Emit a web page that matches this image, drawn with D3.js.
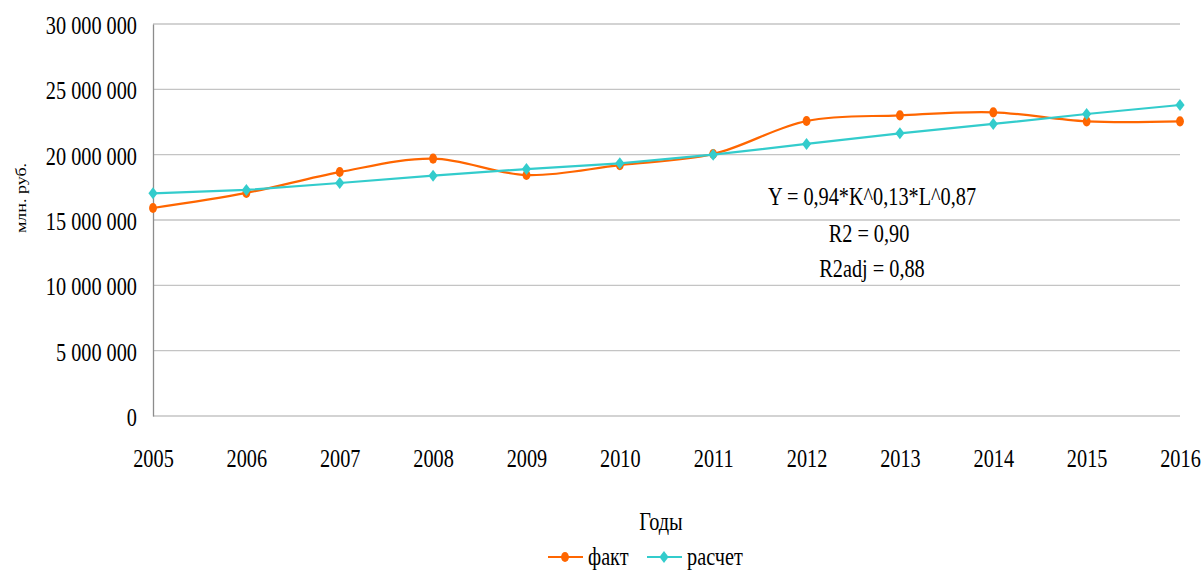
<!DOCTYPE html>
<html>
<head>
<meta charset="utf-8">
<script src="https://cdn.jsdelivr.net/npm/d3@7"></script>
<style>
  body { margin: 0; background: #fff; }
  svg text { font-family: "Liberation Serif", "Times New Roman", serif; fill: #000; }
</style>
</head>
<body>
<svg id="chart" width="1203" height="572"></svg>
<script>
// data
const years = [2005, 2006, 2007, 2008, 2009, 2010, 2011, 2012, 2013, 2014, 2015, 2016]
const fact = [15920000, 17070000, 18670000, 19700000, 18440000, 19200000, 20050000, 22580000, 23010000, 23240000, 22550000, 22550000]
const calc = [17040000, 17300000, 17830000, 18390000, 18900000, 19340000, 20000000, 20820000, 21630000, 22350000, 23110000, 23800000]
const yTicks = [0, 5000000, 10000000, 15000000, 20000000, 25000000, 30000000]
const notes = ['Y = 0,94*K^0,13*L^0,87', 'R2 = 0,90', 'R2adj = 0,88']
const series = [
    {name: 'факт', values: fact, color: '#FF6600', marker: 'circle', smooth: true},
    {name: 'расчет', values: calc, color: '#33CCCC', marker: 'diamond', smooth: false}
]

// the whole picture is squeezed horizontally
const sx = 0.78
const m = {left: 153, right: 1180, top: 24, bottom: 416}
const serif = '"Liberation Serif", "Times New Roman", serif'

const svg = d3.select('#chart')

const x = d3.scaleLinear().domain(d3.extent(years)).range([m.left, m.right])
const y = d3.scaleLinear().domain([0, 30000000]).range([m.bottom, m.top])
const fmt = v => d3.format(',')(v).replace(/,/g, ' ')

// grid
svg.append('g').attr('class', 'grid')
    .selectAll('line').data(yTicks).enter().append('line')
    .attr('x1', m.left).attr('x2', m.right)
    .attr('y1', d => y(d)).attr('y2', d => y(d))
    .style('stroke', '#c4c4c4').style('stroke-width', 1.4)

// y axis
const axisY = d3.axisLeft(y).tickValues(yTicks).tickFormat(fmt).tickSize(0)
const gy = svg.append('g').attr('transform', `translate(${m.left},0)`).call(axisY)
gy.select('.domain').style('stroke', '#8c8c8c').style('stroke-width', 1.3)
gy.selectAll('text')
    .attr('x', -16 / sx).attr('dy', '0.36em')
    .attr('transform', `scale(${sx},1)`)
    .style('font-size', '26px').style('font-family', serif)

// x axis
const axisX = d3.axisBottom(x).tickValues(years).tickFormat(d3.format('d')).tickSize(0)
const gx = svg.append('g').attr('transform', `translate(0,${m.bottom})`).call(axisX)
gx.select('.domain').remove()
gx.selectAll('.tick text')
    .attr('y', 51).attr('dy', 0).attr('transform', `scale(${sx},1)`)
    .style('font-size', '26px').style('font-family', serif)

// axis titles
svg.append('text')
    .attr('transform', `translate(26,198) scale(${sx},1) rotate(-90)`)
    .attr('text-anchor', 'middle')
    .style('font-size', '18px').style('font-family', serif)
    .text('млн. руб.')
svg.append('text')
    .attr('transform', `translate(661,530) scale(${sx},1)`)
    .attr('text-anchor', 'middle')
    .style('font-size', '26px').style('font-family', serif)
    .text('Годы')

// lines
const markerPath = (type) => type === 'circle'
    ? d3.symbol(d3.symbolCircle, 80)()
    : 'M0,-6L4.6,0L0,6L-4.6,0Z'

series.forEach(s => {
    const line = d3.line()
        .x((d, i) => x(years[i]))
        .y(d => y(d))
        .curve(s.smooth ? d3.curveCatmullRom.alpha(0.5) : d3.curveLinear)
    svg.append('path')
        .attr('d', line(s.values))
        .style('fill', 'none').style('stroke', s.color).style('stroke-width', 2.2)
    svg.append('g').selectAll('path').data(s.values).enter().append('path')
        .attr('d', markerPath(s.marker))
        .attr('transform', (d, i) => s.marker === 'circle'
            ? `translate(${x(years[i])},${y(d)}) scale(${sx},1)`
            : `translate(${x(years[i])},${y(d)})`)
        .style('fill', s.color)
})

// regression note
const noteX = [872, 869, 872]
const noteY = [205, 242, 277]
svg.append('g').selectAll('text').data(notes).enter().append('text')
    .attr('transform', (d, i) => `translate(${noteX[i]},${noteY[i]}) scale(${sx},1)`)
    .attr('text-anchor', 'middle')
    .style('font-size', '26px').style('font-family', serif)
    .text(d => d)

// legend
const legendX = [548, 647]
const lg = svg.append('g').selectAll('g').data(series).enter().append('g')
    .attr('transform', (d, i) => `translate(${legendX[i]},557)`)
lg.append('line').attr('x1', 0).attr('x2', 35)
    .style('stroke', d => d.color).style('stroke-width', 2.2)
lg.append('path')
    .attr('d', d => markerPath(d.marker))
    .attr('transform', d => d.marker === 'circle' ? `translate(17,0) scale(${sx},1)` : 'translate(17,0)')
    .style('fill', d => d.color)
lg.append('text')
    .attr('transform', `translate(40,8) scale(${sx},1)`)
    .style('font-size', '26px').style('font-family', serif)
    .text(d => d.name)
</script>
</body>
</html>
